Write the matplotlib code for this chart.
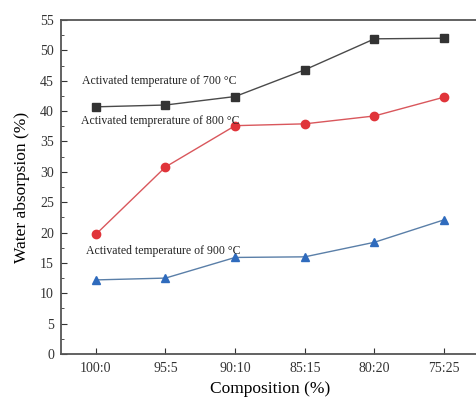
import matplotlib
matplotlib.use("Agg")
import matplotlib.pyplot as plt
from matplotlib.ticker import MultipleLocator

categories = ["100:0", "95:5", "90:10", "85:15", "80:20", "75:25"]
t700 = [40.7, 41.0, 42.4, 46.8, 51.9, 52.0]
t800 = [19.7, 30.8, 37.6, 37.9, 39.2, 42.3]
t900 = [12.2, 12.5, 15.9, 16.0, 18.4, 22.1]
labels = ["Activated temperature of 700 °C",
          "Activated temprerature of 800 °C",
          "Activated temperature of 900 °C"]

plt.rcParams['font.family'] = ['Liberation Serif', 'DejaVu Serif']

fig = plt.figure(figsize=(4.76, 3.99), dpi=100)
ax = fig.add_axes([61/476, 1-354/399, 418/476, (354-20)/399])

x = list(range(len(categories)))
ax.plot(x, t700, color='#4a4a4a', lw=1.0, marker='s', ms=5.5, mfc='#333333', mec='#333333')
ax.plot(x, t800, color='#d9575c', lw=1.0, marker='o', ms=6, mfc='#e0343a', mec='#e0343a')
ax.plot(x, t900, color='#5a7fa8', lw=1.0, marker='^', ms=6, mfc='#2f6bbd', mec='#2f6bbd')

ax.text(-0.2, 44.9, labels[0], fontsize=8.5, color='#222222', va='center')
ax.text(-0.21, 38.3, labels[1], fontsize=8.5, color='#222222', va='center')
ax.text(-0.14, 17.0, labels[2], fontsize=8.5, color='#222222', va='center')

ax.set_xlim(-0.5, 5.5)
ax.set_ylim(0, 55)
ax.set_xticks(x)
ax.set_xticklabels(categories)
ax.yaxis.set_major_locator(MultipleLocator(5))
ax.yaxis.set_minor_locator(MultipleLocator(2.5))
ax.tick_params(axis='both', which='both', direction='in', labelsize=10, colors='#333333')
ax.tick_params(axis='both', which='major', length=4)
ax.tick_params(axis='both', which='minor', length=2.5)
ax.tick_params(axis='x', which='both', top=False, pad=6)
ax.tick_params(axis='y', which='both', right=False, pad=5)
for s in ax.spines.values():
    s.set_color('#555555')
    s.set_linewidth(1.3)

ax.set_xlabel("Composition (%)", fontsize=12.5, labelpad=4)
ax.set_ylabel("Water absorpsion (%)", fontsize=12.5, labelpad=7)

fig.savefig("out.png", dpi=100)
